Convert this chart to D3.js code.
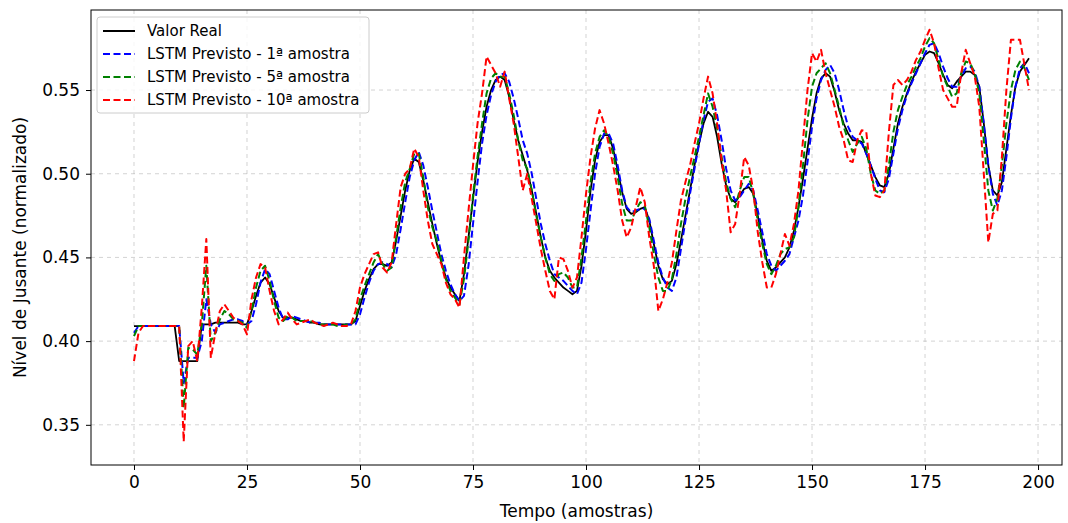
<!DOCTYPE html>
<html><head><meta charset="utf-8">
<script src="https://cdn.jsdelivr.net/npm/d3@7"></script>
<style>body{margin:0;background:#fff}svg{display:block;font-family:"DejaVu Sans",sans-serif}</style>
</head><body><svg id="c" width="1068" height="523"></svg>
<script>
const realValues = [0.409,0.409,0.409,0.409,0.409,0.409,0.409,0.409,0.409,0.409,
0.388,0.388,0.388,0.388,0.388,0.41,0.41,0.41,0.411,0.411,
0.411,0.411,0.411,0.411,0.41,0.41,0.418,0.427,0.435,0.438,
0.434,0.426,0.418,0.414,0.414,0.414,0.413,0.412,0.412,0.411,
0.411,0.41,0.41,0.41,0.41,0.41,0.41,0.41,0.41,0.412,
0.421,0.43,0.437,0.443,0.446,0.446,0.445,0.447,0.46,0.475,
0.49,0.502,0.509,0.507,0.496,0.483,0.47,0.458,0.447,0.438,
0.432,0.428,0.424,0.44,0.462,0.485,0.507,0.525,0.54,0.55,
0.556,0.558,0.556,0.546,0.532,0.52,0.511,0.502,0.49,0.476,
0.462,0.45,0.442,0.438,0.435,0.432,0.43,0.428,0.43,0.445,
0.466,0.49,0.508,0.519,0.523,0.523,0.515,0.502,0.489,0.479,
0.476,0.477,0.479,0.48,0.472,0.458,0.445,0.437,0.434,0.436,
0.446,0.46,0.475,0.49,0.505,0.518,0.53,0.537,0.534,0.522,
0.506,0.493,0.485,0.483,0.487,0.491,0.492,0.488,0.475,0.46,
0.448,0.442,0.444,0.447,0.45,0.456,0.466,0.48,0.497,0.515,
0.533,0.548,0.557,0.56,0.558,0.549,0.538,0.53,0.524,0.52,
0.52,0.519,0.512,0.505,0.498,0.493,0.492,0.5,0.515,0.53,
0.54,0.548,0.555,0.561,0.566,0.571,0.573,0.572,0.566,0.559,
0.553,0.551,0.555,0.558,0.561,0.561,0.559,0.552,0.53,0.505,
0.49,0.487,0.495,0.515,0.535,0.552,0.561,0.565,0.569];

const pred1Values = [0.405,0.409,0.409,0.409,0.409,0.409,0.409,0.409,0.409,0.409,
0.409,0.375,0.39,0.39,0.39,0.4,0.425,0.41,0.405,0.41,
0.411,0.412,0.413,0.413,0.412,0.41,0.412,0.422,0.435,0.443,
0.44,0.43,0.42,0.413,0.413,0.415,0.414,0.413,0.412,0.411,
0.411,0.411,0.41,0.41,0.41,0.41,0.41,0.41,0.41,0.41,
0.416,0.426,0.435,0.442,0.446,0.447,0.446,0.444,0.452,0.467,
0.483,0.498,0.508,0.513,0.505,0.492,0.478,0.465,0.452,0.442,
0.434,0.428,0.424,0.427,0.445,0.47,0.495,0.518,0.535,0.547,
0.555,0.559,0.56,0.555,0.545,0.533,0.52,0.512,0.5,0.485,
0.47,0.458,0.448,0.44,0.438,0.436,0.433,0.43,0.428,0.435,
0.455,0.478,0.5,0.516,0.524,0.524,0.518,0.505,0.49,0.48,
0.477,0.478,0.479,0.479,0.473,0.46,0.447,0.438,0.432,0.43,
0.438,0.455,0.472,0.488,0.503,0.518,0.532,0.543,0.545,0.535,
0.52,0.503,0.49,0.484,0.486,0.49,0.494,0.49,0.478,0.465,
0.452,0.445,0.442,0.445,0.448,0.452,0.462,0.472,0.487,0.507,
0.528,0.545,0.556,0.562,0.565,0.56,0.55,0.538,0.528,0.522,
0.52,0.518,0.512,0.505,0.497,0.49,0.489,0.497,0.512,0.527,
0.538,0.547,0.554,0.56,0.566,0.572,0.577,0.578,0.572,0.564,
0.557,0.552,0.552,0.558,0.563,0.564,0.561,0.552,0.53,0.505,
0.488,0.481,0.49,0.51,0.533,0.552,0.563,0.566,0.56];

const pred5Values = [0.403,0.409,0.409,0.409,0.409,0.409,0.409,0.409,0.409,0.409,
0.409,0.36,0.396,0.395,0.392,0.41,0.445,0.4,0.405,0.413,
0.418,0.416,0.413,0.412,0.411,0.408,0.418,0.432,0.442,0.445,
0.436,0.424,0.414,0.412,0.415,0.414,0.412,0.412,0.412,0.412,
0.411,0.41,0.41,0.41,0.41,0.409,0.409,0.41,0.41,0.413,
0.425,0.433,0.44,0.447,0.452,0.446,0.442,0.444,0.462,0.48,
0.495,0.503,0.512,0.512,0.498,0.48,0.468,0.46,0.448,0.437,
0.43,0.426,0.422,0.437,0.46,0.487,0.51,0.53,0.548,0.557,
0.56,0.558,0.558,0.548,0.535,0.52,0.508,0.503,0.49,0.475,
0.462,0.45,0.44,0.436,0.44,0.441,0.438,0.432,0.432,0.45,
0.472,0.495,0.512,0.522,0.526,0.522,0.512,0.498,0.482,0.472,
0.472,0.478,0.483,0.481,0.468,0.452,0.438,0.43,0.43,0.437,
0.452,0.47,0.485,0.498,0.51,0.522,0.535,0.548,0.54,0.527,
0.51,0.495,0.485,0.48,0.49,0.498,0.498,0.488,0.472,0.458,
0.446,0.44,0.445,0.452,0.455,0.456,0.462,0.48,0.505,0.532,
0.552,0.56,0.563,0.566,0.56,0.55,0.54,0.528,0.52,0.513,
0.518,0.522,0.515,0.5,0.49,0.488,0.49,0.505,0.525,0.538,
0.546,0.553,0.558,0.564,0.569,0.576,0.581,0.578,0.568,0.558,
0.552,0.546,0.548,0.56,0.567,0.566,0.56,0.548,0.52,0.49,
0.478,0.485,0.505,0.53,0.55,0.562,0.567,0.563,0.556];

const pred10Values = [0.388,0.405,0.409,0.409,0.409,0.409,0.409,0.409,0.409,0.409,
0.409,0.34,0.397,0.4,0.388,0.42,0.461,0.39,0.405,0.418,
0.422,0.418,0.414,0.412,0.41,0.404,0.425,0.438,0.446,0.444,
0.43,0.418,0.41,0.413,0.417,0.413,0.41,0.411,0.412,0.413,
0.411,0.41,0.409,0.41,0.411,0.41,0.409,0.409,0.41,0.418,
0.432,0.44,0.446,0.452,0.453,0.444,0.441,0.447,0.47,0.492,
0.5,0.503,0.515,0.51,0.49,0.472,0.458,0.452,0.446,0.435,
0.428,0.425,0.42,0.45,0.478,0.505,0.53,0.548,0.57,0.565,
0.56,0.552,0.561,0.545,0.53,0.51,0.49,0.5,0.485,0.47,
0.455,0.442,0.43,0.425,0.45,0.449,0.442,0.432,0.438,0.462,
0.488,0.51,0.527,0.538,0.53,0.518,0.505,0.49,0.472,0.462,
0.468,0.48,0.492,0.483,0.462,0.445,0.418,0.425,0.435,0.447,
0.466,0.484,0.495,0.505,0.518,0.53,0.545,0.558,0.548,0.53,
0.508,0.49,0.465,0.47,0.488,0.51,0.505,0.49,0.465,0.447,
0.432,0.432,0.44,0.452,0.464,0.457,0.47,0.49,0.52,0.55,
0.572,0.567,0.574,0.56,0.55,0.54,0.528,0.52,0.508,0.507,
0.52,0.526,0.525,0.5,0.487,0.486,0.49,0.525,0.553,0.556,
0.553,0.556,0.561,0.568,0.573,0.58,0.586,0.578,0.563,0.55,
0.545,0.54,0.54,0.56,0.574,0.566,0.558,0.54,0.5,0.459,
0.476,0.478,0.51,0.55,0.58,0.58,0.58,0.565,0.55];

const seriesNames = ["Valor Real","LSTM Previsto - 1ª amostra","LSTM Previsto - 5ª amostra","LSTM Previsto - 10ª amostra"];
const seriesColors = ["#000000","#0000ff","#008000","#ff0000"];
const xTicks = [0,25,50,75,100,125,150,175,200];
const yTicks = [0.35,0.40,0.45,0.50,0.55];
const xLabel = "Tempo (amostras)";
const yLabel = "Nível de Jusante (normalizado)";

const svg = d3.select("#c");
const L = 91, R = 1062, T = 10, B = 465;
const x = d3.scaleLinear().domain([-9.51, 205.3]).range([L, R]);
const y = d3.scaleLinear().domain([0.326, 0.5978]).range([B, T]);

// grid
const g = svg.append("g");
g.selectAll(".vg").data(xTicks).join("line")
  .attr("x1", d => x(d)).attr("x2", d => x(d)).attr("y1", T).attr("y2", B)
  .attr("stroke", "#b0b0b0").attr("stroke-opacity", 0.7).attr("stroke-width", 0.8).attr("stroke-dasharray", "4,4");
g.selectAll(".hg").data(yTicks).join("line")
  .attr("x1", L).attr("x2", R).attr("y1", d => y(d)).attr("y2", d => y(d))
  .attr("stroke", "#b0b0b0").attr("stroke-opacity", 0.7).attr("stroke-width", 0.8).attr("stroke-dasharray", "4,4");

// axes
const xAxis = svg.append("g").attr("transform", `translate(0,${B})`)
  .call(d3.axisBottom(x).tickValues(xTicks).tickFormat(d3.format("d")).tickSize(5).tickPadding(6));
const yAxis = svg.append("g").attr("transform", `translate(${L},0)`)
  .call(d3.axisLeft(y).tickValues(yTicks).tickFormat(d3.format(".2f")).tickSize(5).tickPadding(6));
[xAxis, yAxis].forEach(a => {
  a.select(".domain").remove();
  a.selectAll("text").attr("font-size", 17).attr("font-family", "DejaVu Sans").attr("fill", "#000");
  a.selectAll("line").attr("stroke", "#000").attr("stroke-width", 1);
});

// lines
const allSeries = [realValues, pred1Values, pred5Values, pred10Values];
const line = d3.line().x((d, i) => x(i)).y(d => y(d));
allSeries.forEach((vals, k) => {
  svg.append("path").datum(vals)
    .attr("d", line).attr("fill", "none")
    .attr("stroke", seriesColors[k]).attr("stroke-width", k === 0 ? 1.8 : 2)
    .attr("stroke-dasharray", k === 0 ? null : "7,3.5")
    .attr("stroke-linejoin", "round");
});

// frame
svg.append("rect").attr("x", L).attr("y", T).attr("width", R - L).attr("height", B - T)
  .attr("fill", "none").attr("stroke", "#000").attr("stroke-width", 1);

// labels
svg.append("text").attr("x", (L + R) / 2).attr("y", 517).attr("text-anchor", "middle")
  .attr("font-size", 17).text(xLabel);
svg.append("text").attr("transform", `translate(26,${(T + B) / 2 + 10}) rotate(-90)`)
  .attr("text-anchor", "middle").attr("font-size", 17).text(yLabel);

// legend
const lg = svg.append("g").attr("transform", "translate(97,17)");
lg.append("rect").attr("width", 272).attr("height", 96).attr("rx", 3)
  .attr("fill", "#fff").attr("fill-opacity", 0.8).attr("stroke", "#cccccc");
seriesNames.forEach((n, k) => {
  const yy = 14 + k * 23;
  lg.append("line").attr("x1", 6).attr("x2", 38).attr("y1", yy).attr("y2", yy)
    .attr("stroke", seriesColors[k]).attr("stroke-width", 2)
    .attr("stroke-dasharray", k === 0 ? null : "7,3.5");
  lg.append("text").attr("x", 50).attr("y", yy).attr("dy", "0.35em")
    .attr("font-size", 15).text(n);
});
</script></body></html>
